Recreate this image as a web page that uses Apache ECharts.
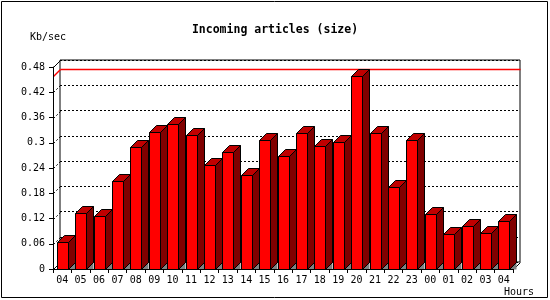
<!DOCTYPE html>
<html>
<head>
<meta charset="utf-8">
<script src="https://cdn.jsdelivr.net/npm/echarts@6/dist/echarts.min.js"></script>
<style>html,body{margin:0;padding:0;background:#fff;}#c{width:550px;height:300px;}</style>
</head>
<body>
<div id="c"></div>
<script>
var hours = ['04','05','06','07','08','09','10','11','12','13','14','15','16','17','18','19','20','21','22','23','00','01','02','03','04'];
var sizeKbSec = [0.064,0.134,0.126,0.209,0.290,0.326,0.344,0.319,0.248,0.277,0.223,0.306,0.269,0.323,0.292,0.301,0.458,0.323,0.195,0.306,0.131,0.083,0.102,0.086,0.113];
var yTickValues = [0,0.06,0.12,0.18,0.24,0.3,0.36,0.42,0.48];
var yTickLabels = ['0','0.06','0.12','0.18','0.24','0.3','0.36','0.42','0.48'];
var titleText = 'Incoming articles (size)';
var yUnit = 'Kb/sec';
var xUnit = 'Hours';

var DX = 7, DY = 7;
var FONT = 'DejaVu Sans Mono';
var maxVal = Math.max.apply(null, sizeKbSec);

var chart = echarts.init(document.getElementById('c'), null, {renderer: 'canvas'});

function barItem(params, api) {
  var i = api.value(0), v = api.value(1);
  var t = api.coord([i, v]);
  var b = api.coord([i, 0]);
  var x1 = Math.round(t[0] - 5.5) + 0.5;
  var x2 = x1 + 11;
  var yt = Math.round(t[1]) + 0.5;
  var y0 = Math.round(b[1]) + 0.5;
  return {
    type: 'group',
    children: [
      {type: 'polygon', shape: {points: [[x2, y0], [x2 + DX, y0 - DY], [x2 + DX, y0]]},
        style: {fill: '#808080', stroke: 'none'}},
      {type: 'polygon', shape: {points: [[x2, yt], [x2 + DX, yt - DY], [x2 + DX, y0 - DY], [x2, y0]]},
        style: {fill: '#800000', stroke: '#000', lineWidth: 1}},
      {type: 'polygon', shape: {points: [[x1, yt], [x1 + DX, yt - DY], [x2 + DX, yt - DY], [x2, yt]]},
        style: {fill: '#c00000', stroke: '#000', lineWidth: 1}},
      {type: 'rect', shape: {x: x1, y: yt, width: 11, height: y0 - yt},
        style: {fill: '#ff0000', stroke: '#000', lineWidth: 1}}
    ]
  };
}

function frameItem(params, api) {
  var v = api.value(1);
  var p = api.coord([0, v]);
  var cs = params.coordSys;
  var x0 = Math.round(cs.x) + 0.5;
  var y = Math.round(p[1]) + 0.5;
  var solid = (v === 0 || v === yTickValues[yTickValues.length - 1]);
  var children = [{
    type: 'line', shape: {x1: x0, y1: y, x2: x0 + DX, y2: y - DY},
    style: {stroke: '#000', fill: 'none', lineWidth: 1, lineDash: solid ? null : [2, 2]}
  }];
  if (v === 0) {
    var xr = Math.round(cs.x + cs.width) + 0.5;
    children.push({type: 'line', shape: {x1: xr, y1: y, x2: xr + DX, y2: y - DY},
      style: {stroke: '#000', fill: 'none', lineWidth: 1}});
  }
  return {type: 'group', children: children};
}

function maxItem(params, api) {
  var v = api.value(1);
  var p = api.coord([0, v]);
  var cs = params.coordSys;
  var x0 = Math.round(cs.x) + 0.5;
  var y = Math.round(p[1]) + 0.5;
  var xr = Math.round(cs.x + cs.width) + DX + 0.5;
  return {
    type: 'group',
    children: [
      {type: 'line', shape: {x1: x0, y1: y, x2: x0 + DX, y2: y - DY},
        style: {stroke: '#ff0000', fill: 'none', lineWidth: 1.4}},
      {type: 'line', shape: {x1: x0 + DX, y1: y - DY, x2: xr, y2: y - DY},
        style: {stroke: '#ff0000', fill: 'none', lineWidth: 1.4}}
    ]
  };
}

var option = {
  backgroundColor: '#fff',
  animation: false,
  title: {
    text: titleText, left: 'center', top: 19,
    textStyle: {fontFamily: FONT, fontWeight: 'bold', fontSize: 11.5, color: '#000'}
  },
  graphic: [
    {type: 'rect', shape: {x: 1.5, y: 1.5, width: 546, height: 296},
      style: {fill: 'none', stroke: '#000', lineWidth: 1}, z: 100},
    {type: 'text', left: 30, top: 32, style: {text: yUnit, font: '10px ' + FONT, fill: '#000'}},
    {type: 'text', left: 504, top: 287, style: {text: xUnit, font: '10px ' + FONT, fill: '#000'}}
  ],
  grid: [
    {left: 53, right: 37, top: 67, bottom: 31},
    {left: 60, right: 30, top: 60, bottom: 38, show: true, borderColor: '#000', borderWidth: 1, backgroundColor: '#fff'}
  ],
  xAxis: [
    {gridIndex: 0, type: 'category', data: hours, boundaryGap: true,
      axisLine: {show: true, lineStyle: {color: '#000', width: 1}},
      axisTick: {show: true, length: 4, lineStyle: {color: '#000'}, alignWithLabel: false},
      axisLabel: {interval: 0, margin: 6, fontFamily: FONT, fontSize: 10, color: '#000'},
      splitLine: {show: false}, z: 5},
    {gridIndex: 1, type: 'category', data: hours, show: false}
  ],
  yAxis: [
    {gridIndex: 0, type: 'value', min: 0, max: 0.48, interval: 0.06,
      axisLine: {show: true, lineStyle: {color: '#000', width: 1}},
      axisTick: {show: true, length: 4, lineStyle: {color: '#000'}},
      axisLabel: {margin: 8, fontFamily: FONT, fontSize: 10, color: '#000',
        formatter: function (val) {
          for (var k = 0; k < yTickValues.length; k++) {
            if (Math.abs(yTickValues[k] - val) < 1e-9) return yTickLabels[k];
          }
          return '';
        }},
      splitLine: {show: false}, z: 5},
    {gridIndex: 1, type: 'value', min: 0, max: 0.48, interval: 0.06,
      axisLine: {show: false}, axisTick: {show: false}, axisLabel: {show: false},
      splitLine: {show: true, lineStyle: {color: '#000', type: [2, 2], width: 1}}}
  ],
  series: [
    {type: 'custom', xAxisIndex: 0, yAxisIndex: 0, clip: false, silent: true, z: 2,
      itemStyle: {color: '#000'},
      renderItem: frameItem,
      data: yTickValues.map(function (v) { return [0, v]; })},
    {type: 'custom', xAxisIndex: 0, yAxisIndex: 0, clip: false, silent: true, z: 3,
      itemStyle: {color: '#ff0000'},
      renderItem: maxItem, data: [[0, maxVal]]},
    {type: 'custom', xAxisIndex: 0, yAxisIndex: 0, clip: false, z: 4,
      itemStyle: {color: '#ff0000'},
      renderItem: barItem,
      data: sizeKbSec.map(function (v, i) { return [i, v]; })}
  ]
};
chart.setOption(option);
</script>
</body>
</html>
